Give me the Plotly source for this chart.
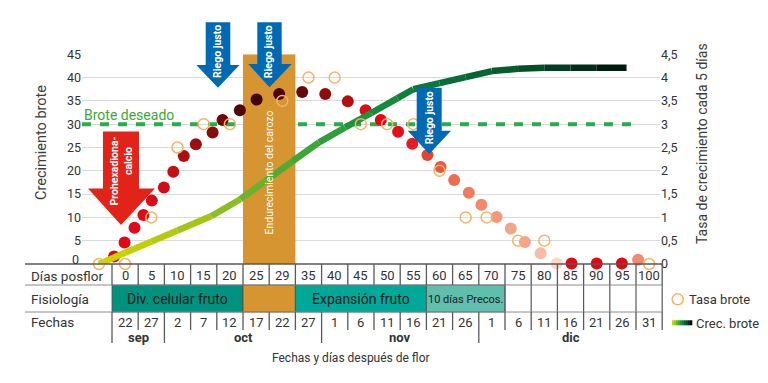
import plotly.graph_objects as go

# window is 768x383; page body has an 8px margin, so the figure is 760x375
OFF = 8
W, H = 768 - OFF, 383 - OFF
FONT = "Roboto, Noto Sans, sans-serif"

# ---------------- data ----------------
dias_posflor = ["0", "5", "10", "15", "20", "25", "29", "35", "40", "45", "50",
                "55", "60", "65", "70", "75", "80", "85", "90", "95", "100"]
fechas = ["22", "27", "2", "7", "12", "17", "22", "27", "1", "6", "11",
          "16", "21", "26", "1", "6", "11", "16", "21", "26", "31"]
meses = ["sep", "oct", "nov", "dic"]
mes_inicio = [0, 2, 8, 14]          # first column of each month
mes_fin = [2, 8, 14, 21]            # column after last
fisio_labels = ["Div. celular fruto", "", "Expansión fruto", "10 días Precos."]
fisio_inicio = [0, 5, 7, 12]
fisio_fin = [5, 7, 12, 15]

# Crec. brote (left axis), days after flowering
crec_x = [-5, 0, 5, 10, 16.5, 22, 27, 32, 37, 42, 47, 52, 55, 60, 65, 70, 75, 80, 85, 90, 95.7]
crec_y = [0, 2.4, 4.8, 7.2, 10.3, 13.9, 18.0, 22.1, 26.1, 29.3, 32.4, 35.6, 37.5, 38.8,
          40.1, 41.4, 41.9, 42.1, 42.1, 42.1, 42.1]

# Tasa brote (right axis)
tasa_x = [-5, 0, 5, 10, 15, 20, 30, 35, 40, 45, 50, 55, 60, 65, 69, 75, 80, 100]
tasa_y = [0, 0, 1.0, 2.5, 3.0, 3.0, 3.5, 4.0, 4.0, 3.0, 3.0, 3.0, 2.0, 1.0, 1.0, 0.5, 0.5, 0]

# filled points (left axis)
pts_x = [-2.1, -0.1, 1.8, 3.5, 5.1, 7.4, 9.2, 11.2, 13.5, 16.7, 18.6, 21.9, 25.1, 29.4,
         33.8, 38.2, 42.5, 45.9, 48.8, 52.1, 54.8, 57.7, 60.2, 62.8, 65.6, 68.0, 70.9,
         73.6, 76.3, 79.3, 82.4, 85.2, 90.0, 94.8, 97.9]
pts_y = [1.6, 4.6, 7.8, 10.5, 13.6, 16.4, 19.8, 23.2, 25.7, 28.2, 30.9, 33.0, 35.3, 36.5,
         36.9, 36.5, 34.9, 33.0, 30.9, 28.4, 25.8, 23.4, 20.8, 18.0, 15.3, 12.7, 10.1,
         7.6, 4.7, 2.3, 0.1, 0.1, 0.1, 0.1, 0.9]

brote_deseado = 30
left_ticks = [0, 5, 10, 15, 20, 25, 30, 35, 40, 45]
left_ticktext = ["", "5", "10", "15", "20", "25", "30", "35", "40", "45"]
right_tickvals = [0, 0.5, 1, 1.5, 2, 2.5, 3, 3.5, 4, 4.5]
right_ticktext = ["0", "0,5", "1", "1,5", "2", "2,5", "3", "3,5", "4", "4,5"]

# ---------------- styles ----------------
pts_colors = ["#e30613", "#e30613", "#e0071a", "#dc0a17", "#d60d16", "#cf0f15", "#c41014",
              "#ad0f10", "#9c0e0d", "#880c0a", "#6c0907", "#520604", "#3f0403", "#4a0504",
              "#650807", "#8c0c0a", "#b30f0f", "#d41018", "#e30613", "#e3101b", "#e41e24",
              "#e8432e", "#ea573d", "#ed6b4f", "#ef7c5e", "#f08a6b", "#f2987b", "#f3a58a",
              "#f5a38c", "#f7bba6", "#fbd7ca", "#e30613", "#e30613", "#e30613", "#ef8b6e"]
crec_colors = ["#c8d400", "#c0d000", "#b3cb0a", "#a3c515", "#8cbd25", "#6cb22e", "#53ab33",
               "#3ea537", "#2e9d3a", "#20933b", "#168a3b", "#0e7f3b", "#0a783a", "#076e37",
               "#056533", "#045c2f", "#034f29", "#023f21", "#022e18", "#011c0f", "#000000"]
fisio_colors = ["#00927e", "#d69530", "#00a899", "#5fbeac"]
fisio_sizes = [14, 14, 14, 11]
ORANGE = "#d69530"
TXT = "#333333"

# ---------------- geometry (window pixels) ----------------
COL_LEFT, COL_W = 112.0, 26.2          # pixel left of table data columns, column width
A_PX, B_PX = COL_LEFT + COL_W / 2, COL_W / 5   # px = A + B*day
PLOT_L, PLOT_R = 82, 660
Y0_PX, Y45_PX = 264.0, 54.3
x_range = [(PLOT_L - A_PX) / B_PX, (PLOT_R - A_PX) / B_PX]
DASH_END = (633 - A_PX) / B_PX


def PX(px):
    return (px - OFF) / W


def PY(py):
    return 1 - (py - OFF) / H


def colpx(i):
    return COL_LEFT + COL_W * i


TABLE_L, TABLE_R = 25, colpx(len(dias_posflor))

fig = go.Figure()

# target line "Brote deseado"
fig.add_trace(go.Scatter(
    x=[x_range[0], DASH_END], y=[brote_deseado, brote_deseado], mode="lines",
    line=dict(color="#2bab4a", width=4, dash="9px,9px"), hoverinfo="skip", showlegend=False))

# band (stone hardening) over the columns of the fisiologia cell
band_x0 = fisio_inicio[1] * 5 - 2.5
band_x1 = fisio_fin[1] * 5 - 2.5
fig.add_trace(go.Scatter(
    x=[band_x0, band_x1, band_x1, band_x0, band_x0], y=[0, 0, 45, 45, 0], mode="lines",
    fill="toself", fillcolor=ORANGE, line=dict(width=0, color=ORANGE),
    hoverinfo="skip", showlegend=False))

# Tasa brote open circles (right axis)
fig.add_trace(go.Scatter(
    x=tasa_x, y=tasa_y, yaxis="y2", mode="markers", name="Tasa brote",
    marker=dict(symbol="circle-open", size=11, color="#f5b366", line=dict(width=1.5, color="#f5b366")),
    cliponaxis=False, showlegend=False))

# filled points
fig.add_trace(go.Scatter(
    x=pts_x, y=pts_y, mode="markers",
    marker=dict(size=12, color=pts_colors, line=dict(width=0)),
    cliponaxis=False, showlegend=False))

# Crec. brote: gradient line, one segment per interval
for k in range(len(crec_x) - 1):
    fig.add_trace(go.Scatter(
        x=crec_x[k:k + 2], y=crec_y[k:k + 2], mode="lines",
        line=dict(color=crec_colors[k], width=6.5),
        hoverinfo="skip", showlegend=False))

shapes = []
ann = []


def hline(py, x0, x1, color, w):
    shapes.append(dict(type="line", xref="paper", yref="paper", x0=PX(x0), x1=PX(x1),
                       y0=PY(py), y1=PY(py), line=dict(color=color, width=w), layer="above"))


def vline(px, y0, y1, color, w):
    shapes.append(dict(type="line", xref="paper", yref="paper", x0=PX(px), x1=PX(px),
                       y0=PY(y0), y1=PY(y1), line=dict(color=color, width=w), layer="above"))


def text(s, x, y, size, color=TXT, angle=0, xanchor="center"):
    ann.append(dict(text=s, x=PX(x), y=PY(y), xref="paper", yref="paper", showarrow=False,
                    xanchor=xanchor, yanchor="middle", textangle=angle,
                    font=dict(family=FONT, size=size, color=color)))


def arrow(pts, color):
    path = "M " + " L ".join(f"{PX(x):.5f},{PY(y):.5f}" for x, y in pts) + " Z"
    shapes.append(dict(type="path", xref="paper", yref="paper", path=path,
                       fillcolor=color, line=dict(width=0), layer="above"))


RED, BLUE = "#e2231a", "#0069b4"
arrow([(103, 131.5), (139, 131.5), (139, 188.5), (155, 188.5), (121, 225), (88, 188.5), (103, 188.5)], RED)
arrow([(205.7, 22.3), (230.3, 22.3), (230.3, 65), (239.5, 65), (218, 87.7), (196.3, 65), (205.7, 65)], BLUE)
arrow([(257.3, 22.3), (281.7, 22.3), (281.7, 64), (291.7, 64), (269.5, 87.3), (248.3, 64), (257.3, 64)], BLUE)
arrow([(416.7, 87.7), (441.7, 87.7), (441.7, 130.7), (451, 130.7), (429.3, 154), (407.7, 130.7), (416.7, 130.7)], BLUE)

text("<b>Prohexadiona-</b>", 113.5, 171, 10.5, "white", -90)
text("<b>calcio</b>", 128.5, 161.5, 10.5, "white", -90)
text("<b>Riego justo</b>", 218, 52, 10.5, "white", -90)
text("<b>Riego justo</b>", 269.3, 52, 10.5, "white", -90)
text("<b>Riego justo</b>", 429.3, 118, 10.5, "white", -90)
text("Endurecimiento del carozo", 269.5, 173, 10.5, "white", -90)
text("Brote deseado", 82, 115, 14, "#3aaa35", 0, "left")
text("Crecimiento brote", 41, 143, 14.5, "#3c3c3c", -90)
text("Tasa de crecimiento cada 5 días", 702.5, 143.5, 14, "#3c3c3c", -90)
text("0", 75, 259.5, 12.5)

# ---------------- table ----------------
ROW_T, ROW_1, ROW_2 = 264, 285, 312
for lab, c0, c1, col, fs in zip(fisio_labels, fisio_inicio, fisio_fin, fisio_colors, fisio_sizes):
    shapes.append(dict(type="rect", xref="paper", yref="paper", x0=PX(colpx(c0)), x1=PX(colpx(c1)),
                       y0=PY(ROW_2), y1=PY(ROW_1), fillcolor=col,
                       line=dict(color="#4d4d4d", width=0.8), layer="above"))
    if lab:
        text(lab, (colpx(c0) + colpx(c1)) / 2, 299, fs, "#1d1d1b")
for i in range(fisio_fin[-1], len(dias_posflor) + 1):
    vline(colpx(i), ROW_1, ROW_2, "#595959", 1.2)

hline(ROW_T, TABLE_L, TABLE_R, "#595959", 1.6)
hline(ROW_1, TABLE_L, TABLE_R, "#8c8c8c", 1)
hline(ROW_2, TABLE_L, TABLE_R, "#8c8c8c", 1)
for i in range(len(dias_posflor) + 1):
    vline(colpx(i), ROW_T, ROW_1, "#595959", 1.3)
    vline(colpx(i), ROW_2, 343 if i in mes_inicio else 330, "#595959", 1.3)

for i, lab in enumerate(dias_posflor):
    text(lab, colpx(i) + COL_W / 2, 275.5, 13)
for i, lab in enumerate(fechas):
    text(lab, colpx(i) + COL_W / 2, 322, 13)
for lab, c0, c1 in zip(meses, mes_inicio, mes_fin):
    text("<b>" + lab + "</b>", (colpx(c0) + colpx(c1)) / 2, 337.5, 13)

text("Días posflor", 29, 275.5, 13.5, TXT, 0, "left")
text("Fisiología", 29, 299, 13.5, TXT, 0, "left")
text("Fechas", 29, 322, 13.5, TXT, 0, "left")
text("Fechas y días después de flor", 351, 357.5, 12)

# legend
shapes.append(dict(type="circle", xref="paper", yref="paper", x0=PX(672.2), x1=PX(683.2),
                   y0=PY(304.8), y1=PY(293.8), line=dict(color="#f5b366", width=1.5)))
leg_cols = ["#c8d400", "#a3c515", "#6cb22e", "#3ea537", "#20933b", "#0e7f3b", "#056533",
            "#034f29", "#022e18", "#000000"]
for j, c in enumerate(leg_cols):
    shapes.append(dict(type="rect", xref="paper", yref="paper", x0=PX(672 + 2 * j), x1=PX(674.3 + 2 * j),
                       y0=PY(325.3), y1=PY(320.3), fillcolor=c, line=dict(width=0)))
text("Tasa brote", 687, 299, 13, TXT, 0, "left")
text("Crec. brote", 694, 323, 13, TXT, 0, "left")

fig.update_layout(
    width=W, height=H, margin=dict(l=0, r=0, t=0, b=0, pad=0), autosize=False,
    paper_bgcolor="white", plot_bgcolor="white", showlegend=False,
    font=dict(family=FONT, color=TXT),
    xaxis=dict(domain=[PX(PLOT_L), PX(PLOT_R)], range=x_range, visible=False, fixedrange=True,
               automargin=False),
    yaxis=dict(domain=[PY(Y0_PX), PY(Y45_PX)], range=[0, 45], tickvals=left_ticks,
               ticktext=left_ticktext,
               showgrid=True, gridcolor="#dadada", gridwidth=1.3, zeroline=False, showline=False,
               ticks="", tickfont=dict(size=12.5, color=TXT), fixedrange=True, automargin=False),
    yaxis2=dict(overlaying="y", side="right", anchor="x", range=[0, 4.5], tickvals=right_tickvals,
                ticktext=right_ticktext, showgrid=False, zeroline=False, showline=False, ticks="",
                tickfont=dict(size=12.5, color=TXT), fixedrange=True, automargin=False),
    shapes=shapes, annotations=ann,
)

fig.write_html("out.html")
